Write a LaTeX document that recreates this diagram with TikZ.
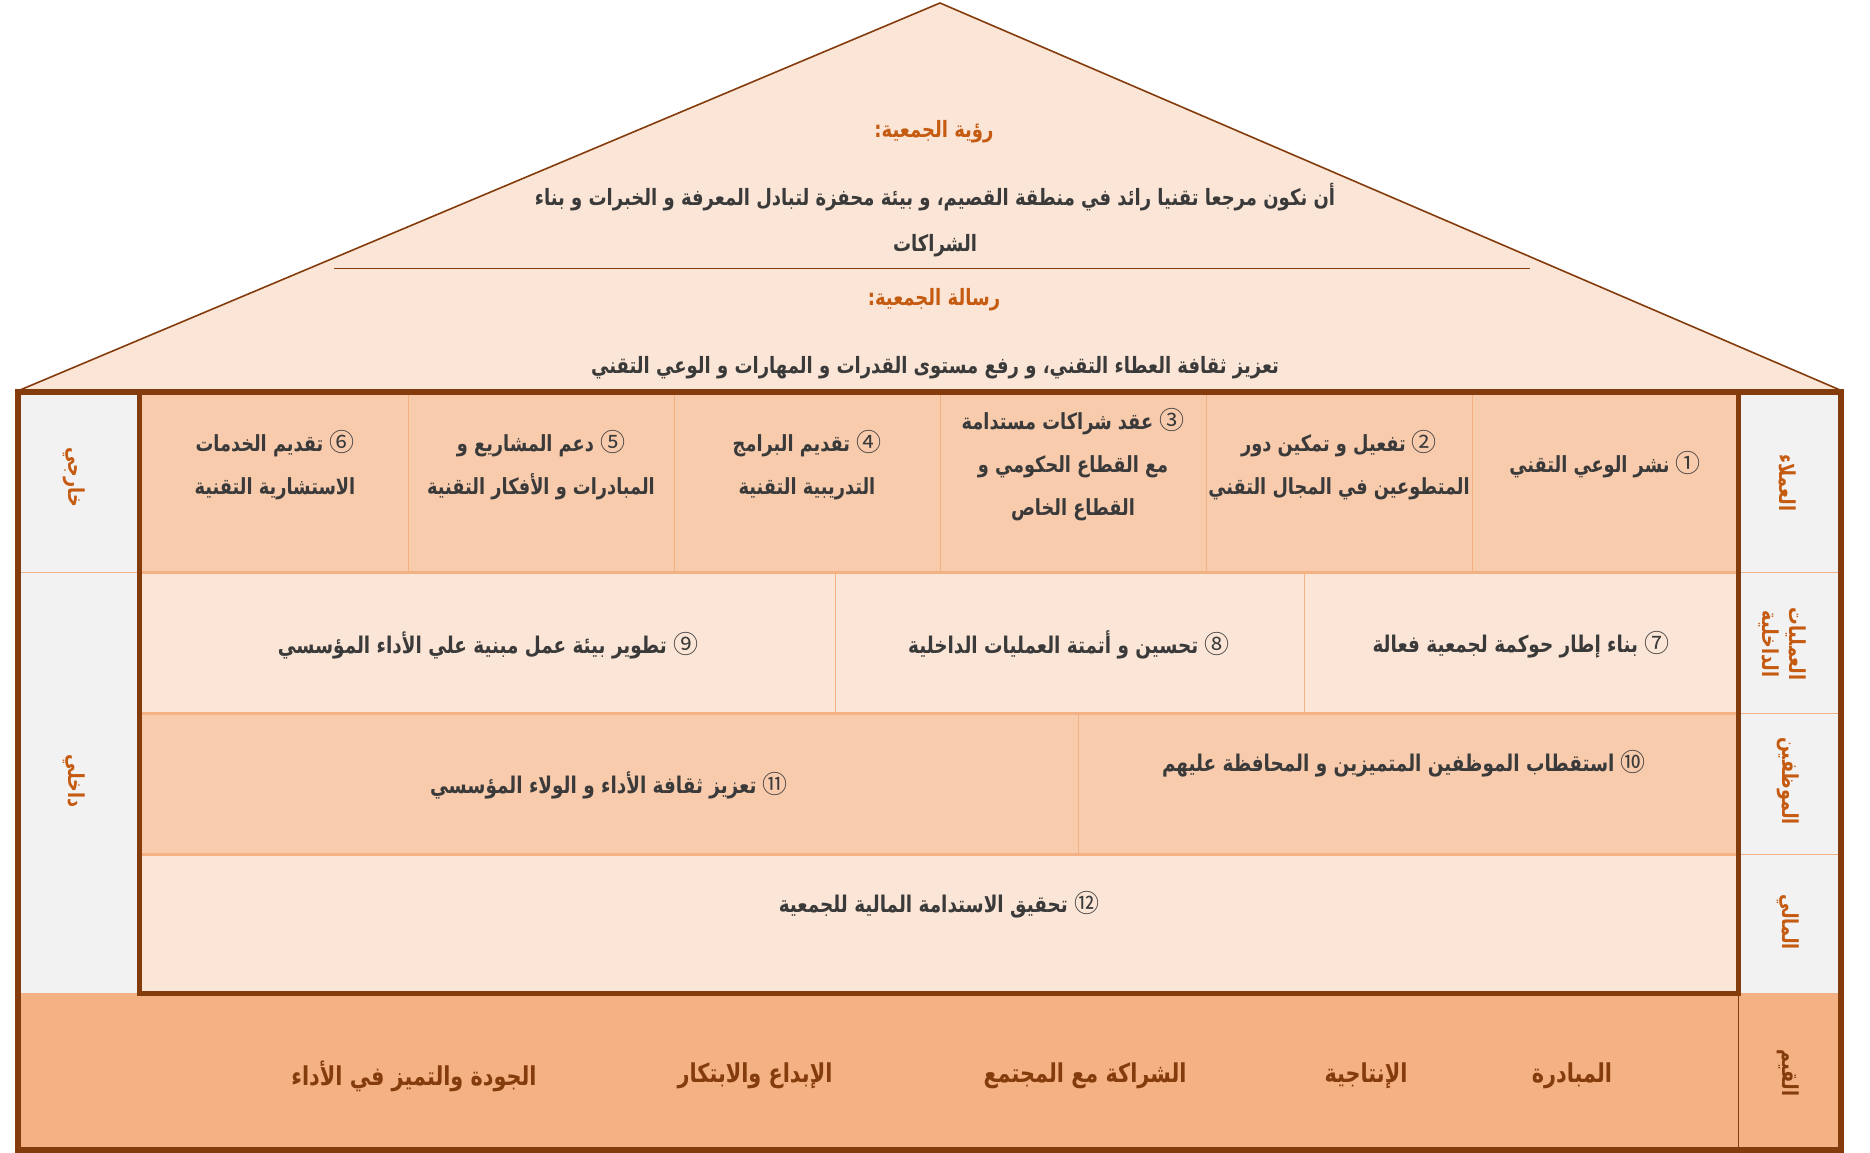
\documentclass[tikz,border=0pt]{standalone}
\usepackage{fontspec}
\TeXXeTstate=1
\newfontfamily\arfont[Script=Arabic,FakeStretch=0.8]{DejaVu Sans}
\newfontfamily\cjk{Noto Sans CJK SC}
\definecolor{framebrown}{HTML}{843C0C}
\definecolor{trifill}{HTML}{FBE5D6}
\definecolor{darkrow}{HTML}{F8CBAD}
\definecolor{lightrow}{HTML}{FBE5D6}
\definecolor{valrow}{HTML}{F4B183}
\definecolor{graycol}{HTML}{F2F2F2}
\definecolor{divline}{HTML}{F4B183}
\definecolor{headorange}{HTML}{C55A11}
\definecolor{bodygray}{HTML}{3A3A3A}
\newcommand\ArT[1]{\beginR#1\endR}
\newcommand\cn[1]{\hbox{{\cjk\mdseries\fontsize{25}{30}\selectfont#1}}}
\tikzset{
  body/.style={font=\arfont\bfseries\fontsize{23}{43}\selectfont, text=bodygray, align=center, inner sep=0pt},
  topbody/.style={body, font=\arfont\bfseries\fontsize{22.2}{43}\selectfont},
  roof/.style={font=\arfont\bfseries\fontsize{22.5}{46}\selectfont, text=bodygray, align=center, inner sep=0pt},
  head/.style={font=\arfont\bfseries\fontsize{22.5}{26}\selectfont, text=headorange, inner sep=0pt},
  lbl/.style={font=\arfont\bfseries\fontsize{22}{27}\selectfont, text=headorange, rotate=-90, align=center, inner sep=0pt},
  val/.style={font=\arfont\bfseries\fontsize{26}{30}\selectfont, text=framebrown, inner sep=0pt},
  thindiv/.style={draw=divline, line width=1pt},
  rowdiv/.style={draw=divline, line width=3pt},
}
\begin{document}
\begin{tikzpicture}[x=1pt,y=-1pt]
\useasboundingbox (0,0) rectangle (1870,1153);
% roof
\draw[framebrown, line width=1.6pt, fill=trifill, line join=miter] (940,3) -- (20,390) -- (1840,390) -- cycle;
\draw[framebrown, line width=1pt] (334,268) -- (1530,268);
% side columns
\fill[graycol] (18,390) rectangle (141,993);
\fill[graycol] (1738,390) rectangle (1843,993);
% rows
\fill[darkrow] (141,390) rectangle (1738,572);
\fill[lightrow] (141,572) rectangle (1738,713);
\fill[darkrow] (141,713) rectangle (1738,854);
\fill[lightrow] (141,854) rectangle (1738,993);
\fill[valrow] (18,993) rectangle (1843,1151);
% dividers
\foreach \x in {408,674,940,1206,1472} \draw[thindiv] (\x,390) -- (\x,572);
\foreach \x in {835,1304} \draw[thindiv] (\x,572) -- (\x,713);
\draw[thindiv] (1078,713) -- (1078,854);
\foreach \y in {572,713,854} \draw[rowdiv] (141,\y) -- (1738,\y);
\foreach \y in {572,713,854} \draw[thindiv] (1738,\y) -- (1843,\y);
\draw[thindiv] (18,572) -- (141,572);
\draw[framebrown, line width=1pt] (1738,993) -- (1738,1151);
% frames
\draw[framebrown, line width=5pt] (139,392) rectangle (1738,993);
\draw[framebrown, line width=6pt] (18,392) rectangle (1841,1150);

% roof texts
\node[head] (vh) at (934,132) {\ArT{رؤية الجمعية:}};
\node[roof] (vt) at (935,220) {\ArT{أن نكون مرجعا تقنيا رائد في منطقة القصيم، و بيئة محفزة لتبادل المعرفة و الخبرات و بناء}\\\ArT{الشراكات}};
\node[head] (mh) at (934,300) {\ArT{رسالة الجمعية:}};
\node[roof] (mt) at (935,368) {\ArT{تعزيز ثقافة العطاء التقني، و رفع مستوى القدرات و المهارات و الوعي التقني}};

% row 1
\node[topbody] (g1) at (1605,465) {\ArT{\cn{①} نشر الوعي التقني}};
\node[topbody] (g2) at (1339,465) {\ArT{\cn{②} تفعيل و تمكين دور}\\\ArT{المتطوعين في المجال التقني}};
\node[topbody] (g3) at (1073,465) {\ArT{\cn{③} عقد شراكات مستدامة}\\\ArT{مع القطاع الحكومي و}\\\ArT{القطاع الخاص}};
\node[topbody] (g4) at (807,465) {\ArT{\cn{④} تقديم البرامج}\\\ArT{التدريبية التقنية}};
\node[topbody] (g5) at (541,465) {\ArT{\cn{⑤} دعم المشاريع و}\\\ArT{المبادرات و الأفكار التقنية}};
\node[topbody] (g6) at (275,465) {\ArT{\cn{⑥} تقديم الخدمات}\\\ArT{الاستشارية التقنية}};
% row 2
\node[body] (g7) at (1521,645) {\ArT{\cn{⑦} بناء إطار حوكمة لجمعية فعالة}};
\node[body] (g8) at (1069,645) {\ArT{\cn{⑧} تحسين و أتمتة العمليات الداخلية}};
\node[body] (g9) at (488,645) {\ArT{\cn{⑨} تطوير بيئة عمل مبنية علي الأداء المؤسسي}};
% row 3
\node[body] (g10) at (1404,764) {\ArT{\cn{⑩} استقطاب الموظفين المتميزين و المحافظة عليهم}};
\node[body] (g11) at (609,785) {\ArT{\cn{⑪} تعزيز ثقافة الأداء و الولاء المؤسسي}};
% row 4
\node[body] (g12) at (939,905) {\ArT{\cn{⑫} تحقيق الاستدامة المالية للجمعية}};

% values
\node[val] (v1) at (1572,1076) {\ArT{المبادرة}};
\node[val] (v2) at (1366,1076) {\ArT{الإنتاجية}};
\node[val] (v3) at (1085,1076) {\ArT{الشراكة مع المجتمع}};
\node[val] (v4) at (755,1076) {\ArT{الإبداع والابتكار}};
\node[val] (v5) at (414,1076) {\ArT{الجودة والتميز في الأداء}};

% side labels
\node[lbl] (l1) at (1788,483) {\ArT{العملاء}};
\node[lbl] (l2) at (1783,644) {\ArT{العمليات}\\\ArT{الداخلية}};
\node[lbl] (l3) at (1788,781) {\ArT{الموظفين}};
\node[lbl] (l4) at (1788,922) {\ArT{المالي}};
\node[lbl, text=framebrown] (l5) at (1788,1073) {\ArT{القيم}};
\node[lbl] (l6) at (74,477) {\ArT{خارجي}};
\node[lbl] (l7) at (74,781) {\ArT{داخلي}};
\end{tikzpicture}
\end{document}
